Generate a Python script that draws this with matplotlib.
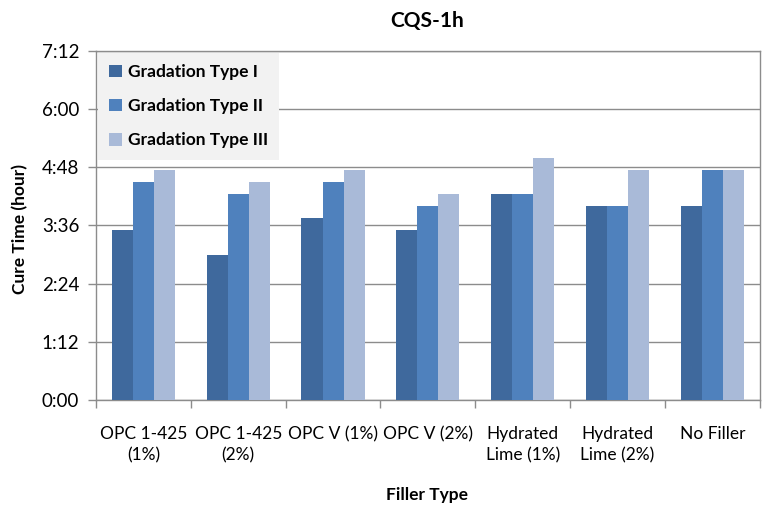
"""
Cure time of CQS-1h emulsion by filler type and gradation.
"""

import matplotlib
matplotlib.use("Agg")
import matplotlib.pyplot as plt
from matplotlib.patches import Patch
from matplotlib.ticker import FixedLocator, FuncFormatter
import numpy as np

plt.rcParams["font.family"] = ["Lato", "DejaVu Sans"]

# Filler types on the x axis
fillers = [
    "OPC 1-425\n(1%)", "OPC 1-425\n(2%)", "OPC V (1%)", "OPC V (2%)",
    "Hydrated\nLime (1%)", "Hydrated\nLime (2%)", "No Filler",
]

# Cure time in hours for each gradation
type_1 = [3.5, 3.0, 3.75, 3.5, 4.25, 4.0, 4.0]
type_2 = [4.5, 4.25, 4.5, 4.0, 4.25, 4.0, 4.75]
type_3 = [4.75, 4.5, 4.75, 4.25, 5.0, 4.75, 4.75]

series_names = ["Gradation Type I", "Gradation Type II", "Gradation Type III"]
y_ticks = [0, 1.2, 2.4, 3.6, 4.8, 6.0, 7.2]


def hours_to_hhmm(val, pos=None):
    """Format decimal hours as h:mm."""
    total = int(round(val * 60))
    return f"{total // 60}:{total % 60:02d}"


def main():
    colors = ["#3f699d", "#4f81bd", "#a9bad8"]
    grid_color = "#8c8c8c"

    fig = plt.figure(figsize=(7.62, 5.09), dpi=100)
    ax = fig.add_axes([0.126, 0.214, 0.871, 0.686])

    x = np.arange(len(fillers))
    width = 0.222
    for i, (vals, c) in enumerate(zip([type_1, type_2, type_3], colors)):
        ax.bar(x + (i - 1) * width, vals, width, color=c, zorder=3)

    ax.set_xlim(-0.5, len(fillers) - 0.5)
    ax.set_ylim(0, 7.2)

    # Horizontal gridlines at each tick
    ax.set_yticks(y_ticks)
    ax.yaxis.set_major_formatter(FuncFormatter(hours_to_hhmm))
    ax.grid(axis="y", color=grid_color, linewidth=1.0, zorder=0)

    # Category labels centred, tick marks between categories
    ax.set_xticks(x)
    ax.set_xticklabels(fillers, fontsize=12.5, linespacing=1.35)
    ax.xaxis.set_minor_locator(FixedLocator(np.arange(-0.5, len(fillers), 1.0)))
    ax.tick_params(axis="x", which="major", length=0, pad=19)
    ax.tick_params(axis="x", which="minor", length=6, color=grid_color, width=1)
    ax.tick_params(axis="y", length=6, color=grid_color, width=1,
                   labelsize=13.5, pad=6)

    for side in ["left", "bottom", "top", "right"]:
        ax.spines[side].set_color(grid_color)
        ax.spines[side].set_linewidth(1.0)

    fig.text(0.561, 0.958, "CQS-1h", ha="center", va="center",
             fontsize=15, fontweight="bold")
    fig.text(0.561, 0.028, "Filler Type", ha="center", va="center",
             fontsize=12.5, fontweight="bold")
    fig.text(0.026, 0.55, "Cure Time (hour)", ha="center", va="center",
             rotation=90, fontsize=12.5, fontweight="bold")

    handles = [Patch(facecolor=c, edgecolor="none") for c in colors]
    leg = ax.legend(handles, series_names, loc="upper left",
                    bbox_to_anchor=(0.003, 0.995), frameon=True,
                    fancybox=False, facecolor="#f2f2f2", edgecolor="none",
                    framealpha=1.0, fontsize=12.5, handlelength=0.75,
                    handleheight=0.75, handletextpad=0.3, labelspacing=1.05,
                    borderpad=0.65, borderaxespad=0.0)
    for t in leg.get_texts():
        t.set_fontweight("bold")
    leg.set_zorder(5)

    fig.savefig("out.png", dpi=100)
    plt.close(fig)


if __name__ == "__main__":
    main()
